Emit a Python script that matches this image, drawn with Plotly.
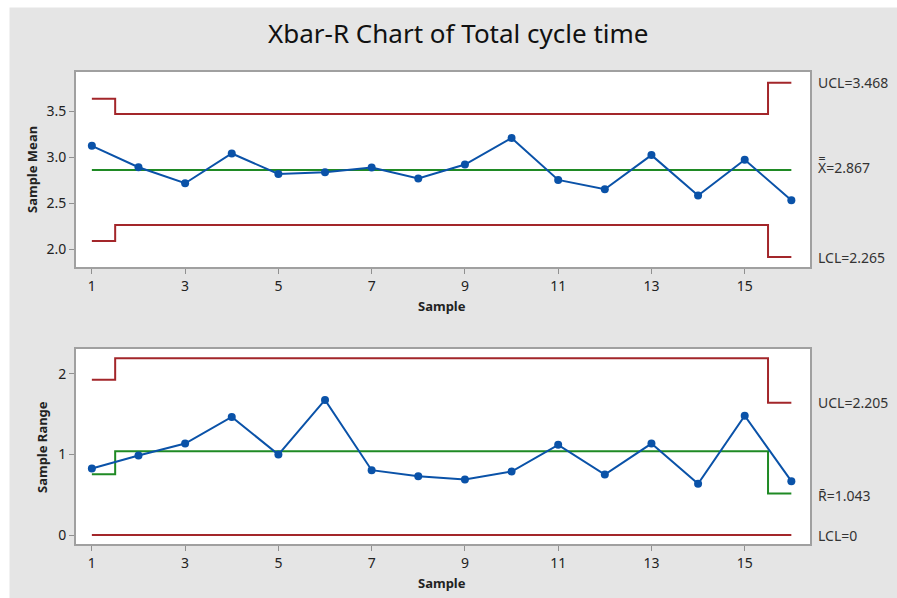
import plotly.graph_objects as go

W, H = 897, 598

samples = list(range(1, 17))
sample_mean = [3.123, 2.891, 2.717, 3.040, 2.818, 2.837, 2.888, 2.768,
               2.920, 3.207, 2.753, 2.652, 3.022, 2.583, 2.971, 2.533]
sample_range = [0.824, 0.985, 1.134, 1.464, 0.998, 1.675, 0.804, 0.730,
                0.688, 0.787, 1.118, 0.750, 1.134, 0.635, 1.480, 0.668]

xbar_ucl = [3.634] + [3.468] * 14 + [3.808]
xbar_cl = [2.860] * 16
xbar_lcl = [2.090] + [2.265] * 14 + [1.916]

r_ucl = [1.926] + [2.190] * 14 + [1.641]
r_cl = [0.752] + [1.040] * 14 + [0.515]
r_lcl = [0.0] * 16

x_ticks = [1, 3, 5, 7, 9, 11, 13, 15]
mean_ticks = [2.0, 2.5, 3.0, 3.5]
range_ticks = [0, 1, 2]

RED = "#a3262a"
GREEN = "#1f8a24"
BLUE = "#0a52a8"
FONT = "Noto Sans"

fig = go.Figure()

def add_panel(xa, ya, ucl, cl, lcl, vals):
    fig.add_trace(go.Scatter(x=samples, y=ucl, mode="lines", line_shape="hvh",
                             line=dict(color=RED, width=2), xaxis=xa, yaxis=ya))
    fig.add_trace(go.Scatter(x=samples, y=lcl, mode="lines", line_shape="hvh",
                             line=dict(color=RED, width=2), xaxis=xa, yaxis=ya))
    fig.add_trace(go.Scatter(x=samples, y=cl, mode="lines", line_shape="hvh",
                             line=dict(color=GREEN, width=2), xaxis=xa, yaxis=ya))
    fig.add_trace(go.Scatter(x=samples, y=vals, mode="lines+markers",
                             line=dict(color=BLUE, width=2),
                             marker=dict(color=BLUE, size=8),
                             xaxis=xa, yaxis=ya))

add_panel("x", "y", xbar_ucl, xbar_cl, xbar_lcl, sample_mean)
add_panel("x2", "y2", r_ucl, r_cl, r_lcl, sample_range)

axis_common = dict(showgrid=False, zeroline=False, showline=True, mirror=True,
                   linecolor="#a0a0a0", linewidth=2, ticks="outside",
                   ticklen=5, tickcolor="#909090", tickwidth=1,
                   tickfont=dict(family=FONT, size=14, color="#222"))

def px_x(x):
    return x / W

def px_y(y):
    return (H - y) / H

xdom = [px_x(76), px_x(810)]
top_dom = [px_y(267), px_y(72)]
bot_dom = [px_y(544), px_y(349)]

fig.update_layout(
    width=W, height=H, margin=dict(l=0, r=0, t=0, b=0),
    paper_bgcolor="#e5e5e5", plot_bgcolor="white", showlegend=False,
    xaxis=dict(domain=xdom, range=[0.66, 16.4], tickvals=x_ticks, anchor="y", **axis_common),
    yaxis=dict(domain=top_dom, range=[1.808, 3.924], tickvals=mean_ticks,
               tickformat=".1f", anchor="x", **axis_common),
    xaxis2=dict(domain=xdom, range=[0.66, 16.4], tickvals=x_ticks, anchor="y2", **axis_common),
    yaxis2=dict(domain=bot_dom, range=[-0.111, 2.306], tickvals=range_ticks,
                anchor="x2", **axis_common),
    shapes=[
        dict(type="rect", xref="paper", yref="paper", x0=0, x1=px_x(9.5), y0=0, y1=1,
             fillcolor="white", line=dict(width=0), layer="below"),
        dict(type="rect", xref="paper", yref="paper", x0=0, x1=1, y0=px_y(7.5), y1=1,
             fillcolor="white", line=dict(width=0), layer="below"),
    ],
)

ann = []
def label(text, yref, y, yshift=0, size=14, xpx=816, yanchor="middle"):
    ann.append(dict(text=text, xref="paper", x=px_x(xpx), xanchor="left",
                    yref=yref, y=y, yanchor=yanchor, yshift=yshift,
                    showarrow=False, font=dict(family=FONT, size=size, color="#333")))

label("UCL=3.468", "y", xbar_ucl[-1])
label("X\u033F=2.867", "y", xbar_cl[-1], yshift=3)
label("LCL=2.265", "y", xbar_lcl[-1])
label("UCL=2.205", "y2", r_ucl[-1])
label("R\u0304=1.043", "y2", r_cl[-1], yshift=-2)
label("LCL=0", "y2", r_lcl[-1])

ann.append(dict(text="Xbar-R Chart of Total cycle time", xref="paper", yref="paper",
                x=px_x(458), y=px_y(33), xanchor="center", yanchor="middle",
                showarrow=False, font=dict(family=FONT, size=26, color="#111")))
for txt, x, y, rot in [("<b>Sample</b>", 442, 306, 0), ("<b>Sample</b>", 442, 583, 0),
                       ("<b>Sample Mean</b>", 32, 170, -90), ("<b>Sample Range</b>", 42, 447, -90)]:
    ann.append(dict(text=txt, xref="paper", yref="paper", x=px_x(x), y=px_y(y),
                    xanchor="center", yanchor="middle", textangle=rot, showarrow=False,
                    font=dict(family=FONT, size=13, color="#222")))
fig.update_layout(annotations=ann)

fig.write_html("out.html", config={"displayModeBar": False},
               post_script="document.body.style.margin='0px';document.body.style.overflow='hidden';")
